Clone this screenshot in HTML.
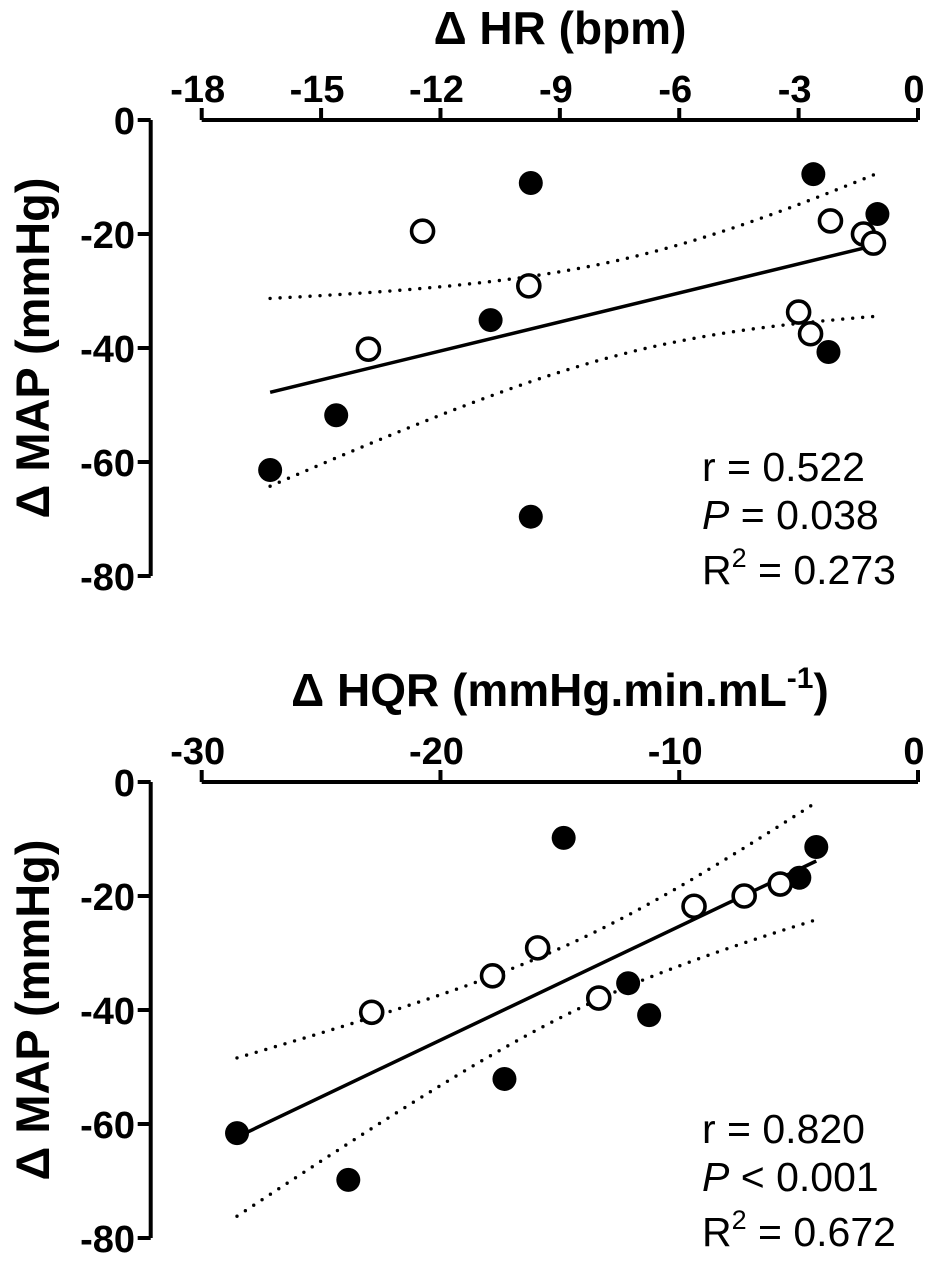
<!DOCTYPE html>
<html><head><meta charset="utf-8"><style>
body{margin:0;background:#fff;}
svg{display:block;font-family:"Liberation Sans",Arial,sans-serif;}
</style></head><body>
<svg id="chart" width="931" height="1262" viewBox="0 0 931 1262"></svg>
<script>
// Top panel data (ΔHR bpm vs ΔMAP mmHg)
const hrFilledX = [-16.28,-14.62,-9.73,-10.74,-9.73,-2.63,-1.02,-2.25];
const hrFilledY = [-61.4,-51.8,-69.6,-35.1,-11.05,-9.5,-16.5,-40.7];
const hrOpenX = [-9.78,-12.45,-13.81,-2.20,-1.37,-1.12,-3.0,-2.70];
const hrOpenY = [-29.1,-19.5,-40.2,-17.7,-20,-21.6,-33.7,-37.5];
const hrTicks = [-18,-15,-12,-9,-6,-3,0];
// Bottom panel data (ΔHQR vs ΔMAP)
const hqrFilledX = [-28.52,-23.86,-14.84,-17.32,-12.14,-11.26,-4.97,-4.26];
const hqrFilledY = [-61.6,-69.8,-9.8,-52.1,-35.3,-40.9,-16.8,-11.4];
const hqrOpenX = [-22.88,-17.82,-15.93,-13.37,-9.38,-7.28,-5.77];
const hqrOpenY = [-40.4,-34.0,-29.1,-37.9,-21.8,-20,-17.9];
const hqrTicks = [-30,-20,-10,0];
const mapTicks = [0,-20,-40,-60,-80];
const topStats = ["r = 0.522","= 0.038","= 0.273"];
const botStats = ["r = 0.820","< 0.001","= 0.672"];

const NS="http://www.w3.org/2000/svg";
const svg=document.getElementById('chart');
function mk(tag,attrs,parent){const e=document.createElementNS(NS,tag);for(const k in attrs)e.setAttribute(k,attrs[k]);(parent||svg).appendChild(e);return e;}

function panel(o){
  const g=mk('g',{});
  
  
  const x0=201.7,x1=918,y0=o.top,ppy=5.7;
  const xs=v=>x0+(v-o.xmin)/(0-o.xmin)*(x1-x0);
  const ys=v=>y0-v*ppy;
  const xa=mk('path',{d:`M${x0} ${y0}H${x1}`,stroke:'#000','stroke-width':4,fill:'none'},g);
  
  
  o.xticks.forEach(t=>{
    mk('path',{d:`M${xs(t)} ${y0}v-12`,stroke:'#000','stroke-width':4},g);
    const tx=mk('text',{x:xs(t)-4,y:y0-18,'text-anchor':'middle','font-weight':'bold','font-size':38},g);tx.textContent=t;
    
    
  });
  const ya=mk('path',{d:`M150.7 ${y0}V${ys(-80)}`,stroke:'#000','stroke-width':4,fill:'none'},g);
  
  
  mapTicks.forEach(t=>{
    mk('path',{d:`M150.7 ${ys(t)}h-13`,stroke:'#000','stroke-width':4},g);
    const tx=mk('text',{x:135,y:ys(t)+14,'text-anchor':'end','font-weight':'bold','font-size':38},g);tx.textContent=t;
    
    
  });
  const xt=mk('text',{x:560,y:o.top-76,'text-anchor':'middle','font-weight':'bold','font-size':46},g);
  xt.innerHTML=o.xtitle;
  
  
  const cy=ys(-40);
  const yt=mk('text',{x:0,y:0,'text-anchor':'middle','font-weight':'bold','font-size':47,transform:`translate(49 ${cy}) rotate(-90)`},g);
  yt.textContent='Δ MAP (mmHg)';
  
  
  const X=o.fx.concat(o.ox),Y=o.fy.concat(o.oy),n=X.length;
  const mx=X.reduce((a,b)=>a+b)/n,my=Y.reduce((a,b)=>a+b)/n;
  let sxx=0,sxy=0;X.forEach((x,i)=>{sxx+=(x-mx)**2;sxy+=(x-mx)*(Y[i]-my);});
  const b=sxy/sxx,a=my-b*mx;
  let sse=0;X.forEach((x,i)=>{sse+=(Y[i]-a-b*x)**2;});
  const s=Math.sqrt(sse/(n-2)),t=2.145;
  const lo=Math.min(...X),hi=Math.max(...X);
  const rl=mk('path',{d:`M${xs(lo)} ${ys(a+b*lo)}L${xs(hi)} ${ys(a+b*hi)}`,stroke:'#000','stroke-width':3.5},g);
  
  
  [1,-1].forEach(sg=>{
    let d='';for(let i=0;i<=40;i++){const x=lo+(hi-lo)*i/40;const y=a+b*x+sg*t*s*Math.sqrt(1/n+(x-mx)**2/sxx);d+=(i?'L':'M')+xs(x).toFixed(1)+' '+ys(y).toFixed(1);}
    const cb=mk('path',{d,stroke:'#000','stroke-width':3.4,fill:'none','stroke-dasharray':'0 10','stroke-linecap':'round'},g);
    
    
  });
  o.fx.forEach((x,i)=>{const c=mk('circle',{cx:xs(x),cy:ys(o.fy[i]),r:12,fill:'#000'},g);
    
    });
  o.ox.forEach((x,i)=>{const c=mk('circle',{cx:xs(x),cy:ys(o.oy[i]),r:11,fill:'#fff',stroke:'#000','stroke-width':3.6},g);
    
    });
  const sb=o.top+361;
  const s1=mk('text',{x:702,y:sb,'font-size':41},g);s1.textContent=o.stats[0];
  
  
  const s2=mk('text',{x:702,y:sb+48,'font-size':41},g);s2.innerHTML='<tspan font-style="italic">P</tspan> '+o.stats[1];
  
  
  const s3=mk('text',{x:702,y:sb+103,'font-size':41},g);s3.innerHTML='R<tspan dy="-17" font-size="27">2</tspan><tspan dy="17"> '+o.stats[2]+'</tspan>';
  
  
}
panel({name:'hr-panel',top:120,xmin:-18,xticks:hrTicks,xtitle:'Δ HR (bpm)',fx:hrFilledX,fy:hrFilledY,ox:hrOpenX,oy:hrOpenY,stats:topStats});
panel({name:'hqr-panel',top:782,xmin:-30,xticks:hqrTicks,xtitle:'Δ HQR (mmHg.min.mL<tspan dy="-18" font-size="30">-1</tspan><tspan dy="18">)</tspan>',fx:hqrFilledX,fy:hqrFilledY,ox:hqrOpenX,oy:hqrOpenY,stats:botStats});
</script>
</body></html>
